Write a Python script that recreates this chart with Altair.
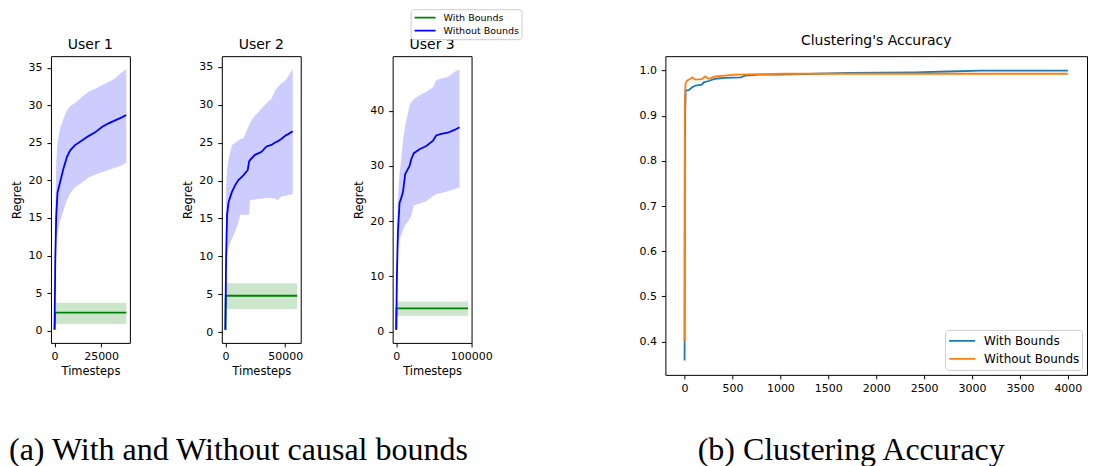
import altair as alt
import pandas as pd

SERIES = ["With Bounds", "Without Bounds"]
USERS = ["User 1", "User 2", "User 3"]
CAPTIONS = ["(a) With and Without causal bounds", "(b) Clustering Accuracy"]

# ---------------- User 1 ----------------
u1_t = [0, 400, 900, 1600, 3000, 4800, 6600, 8400, 11000, 14700, 18200, 21800, 25400, 29000, 32500, 36100, 38500]
u1_mean = [0.2, 9.5, 15.3, 18.4, 19.8, 21.6, 23.1, 24.0, 24.7, 25.3, 25.9, 26.4, 27.1, 27.6, 28.0, 28.4, 28.7]
u1_hi = [0.2, 15.0, 22.5, 25.0, 26.9, 28.2, 29.3, 29.9, 30.3, 31.1, 31.8, 32.2, 32.7, 33.1, 33.6, 34.4, 34.8]
u1_lo = [0.2, 4.7, 11.8, 13.0, 14.6, 16.0, 17.4, 18.3, 19.1, 19.7, 20.4, 20.8, 21.1, 21.4, 21.7, 22.0, 22.4]
u1_green_t = [0, 300, 38500]
u1_green = [0.1, 2.4, 2.4]
u1_gband_t = [0, 38500]
u1_gband_lo = [0.9, 0.9]
u1_gband_hi = [3.7, 3.7]

# ---------------- User 2 ----------------
u2_t = [0, 550, 1400, 2750, 5500, 8200, 11000, 12400, 15000, 18700, 19800, 20600, 24700, 27500, 30200,
        34400, 38500, 41200, 44000, 46700, 50800, 52200, 56300]
u2_mean = [0.3, 9.3, 15.5, 17.2, 18.5, 19.4, 20.1, 20.3, 20.7, 21.4, 22.5, 22.7, 23.4, 23.6, 23.8,
           24.5, 24.7, 25.0, 25.2, 25.5, 26.0, 26.1, 26.5]
u2_hi = [0.3, 19.0, 21.5, 22.9, 24.7, 25.0, 25.3, 25.5, 25.6, 26.9, 27.3, 27.6, 28.6, 29.0, 29.5,
         30.2, 30.8, 31.8, 32.4, 32.8, 33.3, 33.7, 34.7]
u2_lo = [0.3, 4.9, 10.2, 11.3, 12.3, 13.3, 14.5, 15.5, 15.5, 15.5, 15.5, 17.4, 17.5, 17.6, 17.6,
         17.7, 17.7, 17.6, 17.4, 17.9, 18.0, 18.1, 18.2]
u2_green_t = [0, 300, 60000]
u2_green = [0.3, 4.8, 4.8]
u2_gband_t = [0, 60000]
u2_gband_lo = [3.05, 3.05]
u2_gband_hi = [6.45, 6.45]

# ---------------- User 3 ----------------
u3_t = [0, 900, 2200, 4400, 6700, 8900, 12000, 15500, 17800, 20000, 23500, 31100, 40000, 48800, 53300,
        59900, 68800, 77700, 84400]
u3_mean = [0.3, 10.0, 17.9, 23.3, 24.2, 25.2, 28.5, 29.4, 30.0, 31.2, 32.3, 33.0, 33.6, 34.5, 35.5,
           35.8, 36.0, 36.5, 37.0]
u3_hi = [0.3, 15.0, 23.9, 28.5, 31.2, 34.5, 37.3, 39.5, 40.9, 41.5, 42.1, 42.8, 43.4, 44.2, 45.5,
         45.8, 46.1, 47.0, 47.5]
u3_lo = [0.3, 10.5, 15.0, 16.7, 17.5, 18.3, 19.3, 19.9, 20.4, 20.9, 22.8, 23.2, 23.6, 24.5, 24.9,
         25.1, 25.4, 25.8, 26.1]
u3_green_t = [0, 300, 95700]
u3_green = [0.3, 4.2, 4.2]
u3_gband_t = [0, 95700]
u3_gband_lo = [2.85, 2.85]
u3_gband_hi = [5.45, 5.45]

# ---------------- Clustering accuracy ----------------
acc_t_with = [0, 1, 3, 6, 12, 45, 80, 115, 180, 200, 250, 320, 420, 590, 630, 770, 1000, 1380, 1720,
              2410, 2750, 3090, 4000]
acc_with = [0.358, 0.395, 0.78, 0.905, 0.956, 0.957, 0.963, 0.967, 0.969, 0.974, 0.977, 0.982, 0.984,
            0.985, 0.989, 0.991, 0.991, 0.993, 0.995, 0.996, 0.998, 1.0, 1.0]
acc_t_wo = [0, 1, 3, 10, 27, 62, 80, 113, 180, 215, 250, 320, 420, 525, 1040, 4000]
acc_wo = [0.40, 0.66, 0.94, 0.971, 0.978, 0.982, 0.985, 0.980, 0.981, 0.987, 0.982, 0.987, 0.989,
          0.991, 0.993, 0.993]

FONT = "DejaVu Sans"
SERIF = "Liberation Serif"
UW, UH = 79, 287
CW, CH = 422, 319


def user_panel(title, t, mean, lo, hi, gt, gmean, gbt, glo, ghi, xdom, ydom, xticks, yticks,
               extra=None):
    line_df = pd.concat([
        pd.DataFrame({"t": gt, "regret": gmean, "series": SERIES[0]}),
        pd.DataFrame({"t": t, "regret": mean, "series": SERIES[1]}),
    ])
    band_blue = pd.DataFrame({"t": t, "lo": lo, "hi": hi})
    band_green = pd.DataFrame({"t": gbt, "lo": glo, "hi": ghi})
    xax = alt.Axis(values=xticks, format="d", title="Timesteps")
    yax = alt.Axis(values=yticks, format="d", title="Regret")
    xs = alt.Scale(domain=xdom, nice=False, zero=False)
    ys = alt.Scale(domain=ydom, nice=False, zero=False)
    gb = alt.Chart(band_green).mark_area(color="green", opacity=0.2).encode(
        x=alt.X("t:Q", scale=xs, axis=xax),
        y=alt.Y("lo:Q", scale=ys, axis=yax),
        y2="hi:Q",
    )
    bb = alt.Chart(band_blue).mark_area(color="blue", opacity=0.2).encode(
        x=alt.X("t:Q", scale=xs, axis=xax),
        y=alt.Y("lo:Q", scale=ys, axis=yax),
        y2="hi:Q",
    )
    lines = alt.Chart(line_df).mark_line(strokeWidth=1.8).encode(
        x=alt.X("t:Q", scale=xs, axis=xax),
        y=alt.Y("regret:Q", scale=ys, axis=yax),
        color=alt.Color("series:N", scale=alt.Scale(domain=SERIES, range=["green", "blue"]), legend=None),
    )
    layers = [gb, bb, lines] + (extra or [])
    return alt.layer(*layers).properties(
        width=UW, height=UH,
        title=alt.TitleParams(title, fontSize=14, fontWeight="normal", font=FONT, color="black",
                              offset=4, frame="group"),
    )


# sub-figure captions (drawn below the panels, positioned relative to the first panel)
cap_df = pd.DataFrame({"caption": CAPTIONS})
cap_a = alt.Chart(cap_df).transform_filter(alt.datum.caption == CAPTIONS[0]).mark_text(
    align="left", baseline="alphabetic", font=SERIF, fontSize=32, color="black"
).encode(text="caption:N", x=alt.value(-42), y=alt.value(404))
cap_b = alt.Chart(cap_df).transform_filter(alt.datum.caption == CAPTIONS[1]).mark_text(
    align="center", baseline="alphabetic", font=SERIF, fontSize=32, color="black"
).encode(text="caption:N", x=alt.value(801), y=alt.value(404))

u1 = user_panel(USERS[0], u1_t, u1_mean, u1_lo, u1_hi, u1_green_t, u1_green, u1_gband_t, u1_gband_lo,
                u1_gband_hi, [-1925, 40425], [-1.63, 36.54], [0, 25000], list(range(0, 36, 5)),
                extra=[cap_a, cap_b])
u2 = user_panel(USERS[1], u2_t, u2_mean, u2_lo, u2_hi, u2_green_t, u2_green, u2_gband_t, u2_gband_lo,
                u2_gband_hi, [-3000, 63000], [-1.42, 36.42], [0, 50000], list(range(0, 36, 5)))
u3 = user_panel(USERS[2], u3_t, u3_mean, u3_lo, u3_hi, u3_green_t, u3_green, u3_gband_t, u3_gband_lo,
                u3_gband_hi, [-4785, 100485], [-2.06, 49.86], [0, 100000], [0, 10, 20, 30, 40])

# legend of the three regret panels, carried by the small gap view and placed above "User 3"
legend_u = alt.Legend(
    title=None, orient="none", legendX=-153, legendY=-47, symbolType="stroke", symbolSize=441,
    symbolStrokeWidth=1.8, symbolOpacity=1, labelFontSize=9.5, labelFont=FONT, labelColor="black",
    clipHeight=13, rowPadding=0, padding=2, symbolOffset=1, labelOffset=7, strokeColor="#cccccc",
    fillColor="white", cornerRadius=3,
)
gap = alt.Chart(pd.DataFrame({"series": SERIES, "a": [0, 0]})).mark_point(size=0, filled=False).encode(
    x=alt.X("a:Q", axis=None),
    y=alt.Y("a:Q", axis=None),
    color=alt.Color("series:N", scale=alt.Scale(domain=SERIES, range=["green", "blue"]), legend=legend_u),
).properties(width=10, height=1, view=alt.ViewBackground(stroke="transparent"))

acc_df = pd.concat([
    pd.DataFrame({"step": acc_t_with, "acc": acc_with, "series": SERIES[0]}),
    pd.DataFrame({"step": acc_t_wo, "acc": acc_wo, "series": SERIES[1]}),
])
cluster = alt.Chart(acc_df).mark_line(strokeWidth=1.8).encode(
    x=alt.X("step:Q", scale=alt.Scale(domain=[-200, 4200], nice=False, zero=False),
            axis=alt.Axis(values=list(range(0, 4001, 500)), format="d", title=None)),
    y=alt.Y("acc:Q", scale=alt.Scale(domain=[0.326, 1.032], nice=False, zero=False),
            axis=alt.Axis(values=[0.4, 0.5, 0.6, 0.7, 0.8, 0.9, 1.0], format=".1f", title=None)),
    color=alt.Color("series:N", scale=alt.Scale(domain=SERIES, range=["#1f77b4", "#ff7f0e"]),
                    legend=alt.Legend(title=None, orient="bottom-right", offset=5, symbolType="stroke",
                                      symbolSize=676, symbolStrokeWidth=1.8, labelFontSize=12,
                                      labelFont=FONT, labelColor="black", clipHeight=18, rowPadding=0,
                                      padding=2, symbolOffset=1, labelOffset=8, strokeColor="#cccccc",
                                      fillColor="white", cornerRadius=3)),
    order=alt.Order("step:Q"),
).properties(
    width=CW, height=CH,
    title=alt.TitleParams("Clustering's Accuracy", fontSize=14, fontWeight="normal", font=FONT,
                          color="black", offset=8, frame="group"),
)

chart = alt.hconcat(u1, u2, u3, gap, cluster, spacing=92, bounds="flush").resolve_scale(
    color="independent"
).properties(padding=0).configure_view(stroke="black", strokeWidth=1).configure_axis(
    grid=False, domain=False, tickColor="black", tickSize=4, tickWidth=1,
    labelFont=FONT, labelFontSize=11, labelColor="black", labelPadding=4,
    titleFont=FONT, titleFontSize=11.5, titleFontWeight="normal", titleColor="black", titlePadding=4,
    labelFlush=False, labelOverlap=False,
).configure_axisY(labelPadding=5, titlePadding=5)

chart.save("out.html", embed_options={"renderer": "svg", "actions": False})
